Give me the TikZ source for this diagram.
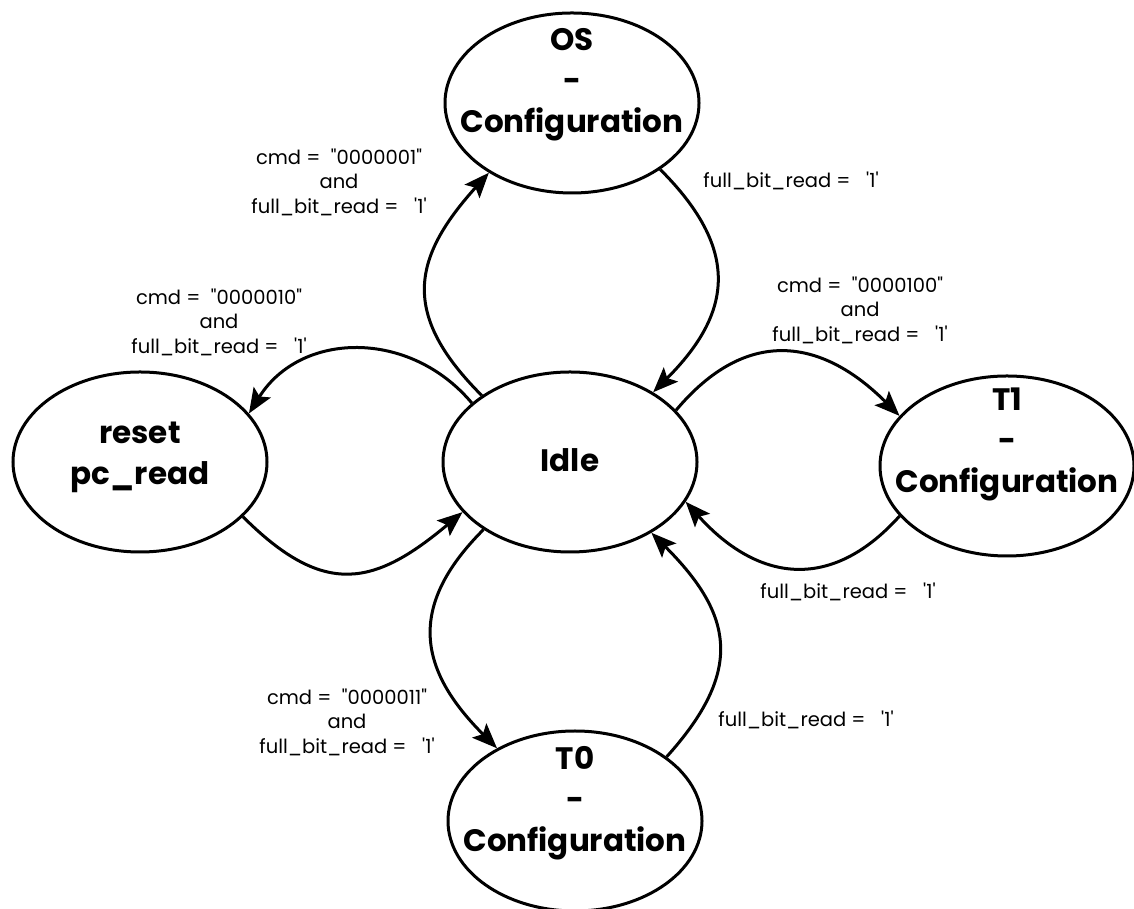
\documentclass[tikz,border=0pt]{standalone}
\usepackage{fontspec}
\setmainfont{Poppins}
\usetikzlibrary{shapes.geometric,arrows.meta}
\newcommand{\dq}{\textquotedbl}
\newcommand{\sq}{\textquotesingle}
\begin{document}
\begin{tikzpicture}[x=1pt,y=1pt,
  state/.style={ellipse, draw, line width=3pt, minimum width=254pt, minimum height=180pt, inner sep=0pt},
  statetext/.style={font=\bfseries\fontsize{31}{41}\selectfont, align=center, inner sep=0pt},
  cond/.style={font=\fontsize{19.5}{24.5}\selectfont, align=center, inner sep=0pt},
  trans/.style={line width=3pt, -{Stealth[length=25pt,width=20pt,inset=5pt]}}
]
\useasboundingbox (0,0) rectangle (1134,909);

% states
\node[state] (os)    at (572,806) {};
\node[state] (idle)  at (570,447) {};
\node[state] (reset) at (140,447) {};
\node[state] (t1)    at (1007,443) {};
\node[state] (t0)    at (575,88) {};

% state names
\node[statetext] (ost)    at ([yshift=18pt]os.center) {OS\\-\\Configuration};
\node[statetext] (idlet)  at ([yshift=2pt]idle.center) {Idle};
\node[statetext] (resett) at ([yshift=5pt]reset.center) {reset\\pc\_read};
\node[statetext] (t1t)    at ([yshift=22pt]t1.center) {T1\\-\\Configuration};
\node[statetext] (t0t)    at ([yshift=18pt]t0.center) {T0\\-\\Configuration};

% transitions
\draw[trans] (idle.143.6)  to[out=135,in=228,distance=115pt] (os.220.1);
\draw[trans] (os.-37.6)    to[out=-45,in=45,distance=113pt]  (idle.40.1);
\draw[trans] (idle.149.5)  to[out=130,in=58,distance=97pt]   (reset.24);
\draw[trans] (reset.-28.8) to[out=-45,in=220,distance=115pt] (idle.205.9);
\draw[trans] (idle.26.3)   to[out=50,in=135,distance=110pt]  (t1.155.4);
\draw[trans] (t1.205.9)    to[out=228,in=-48,distance=105pt] (idle.-19.7);
\draw[trans] (idle.218)    to[out=225,in=135,distance=110pt] (t0.137.3);
\draw[trans] (t0.35.4)     to[out=48,in=-45,distance=116pt]  (idle.-41);

% transition conditions
\node[cond] (c1) at (339,727) {cmd = \ \dq0000001\dq\\and\\full\_bit\_read = \ \ \sq1\sq};
\node[cond] (c2) at (791,728) {full\_bit\_read = \ \ \sq1\sq};
\node[cond] (c3) at (860,599) {cmd = \ \dq0000100\dq\\and\\full\_bit\_read = \ \ \sq1\sq};
\node[cond] (c4) at (219,587) {cmd = \ \dq0000010\dq\\and\\full\_bit\_read = \ \ \sq1\sq};
\node[cond] (c5) at (848,317) {full\_bit\_read = \ \ \sq1\sq};
\node[cond] (c6) at (347,187) {cmd = \ \dq0000011\dq\\and\\full\_bit\_read = \ \ \sq1\sq};
\node[cond] (c7) at (806,189) {full\_bit\_read = \ \ \sq1\sq};
\end{tikzpicture}
\end{document}
